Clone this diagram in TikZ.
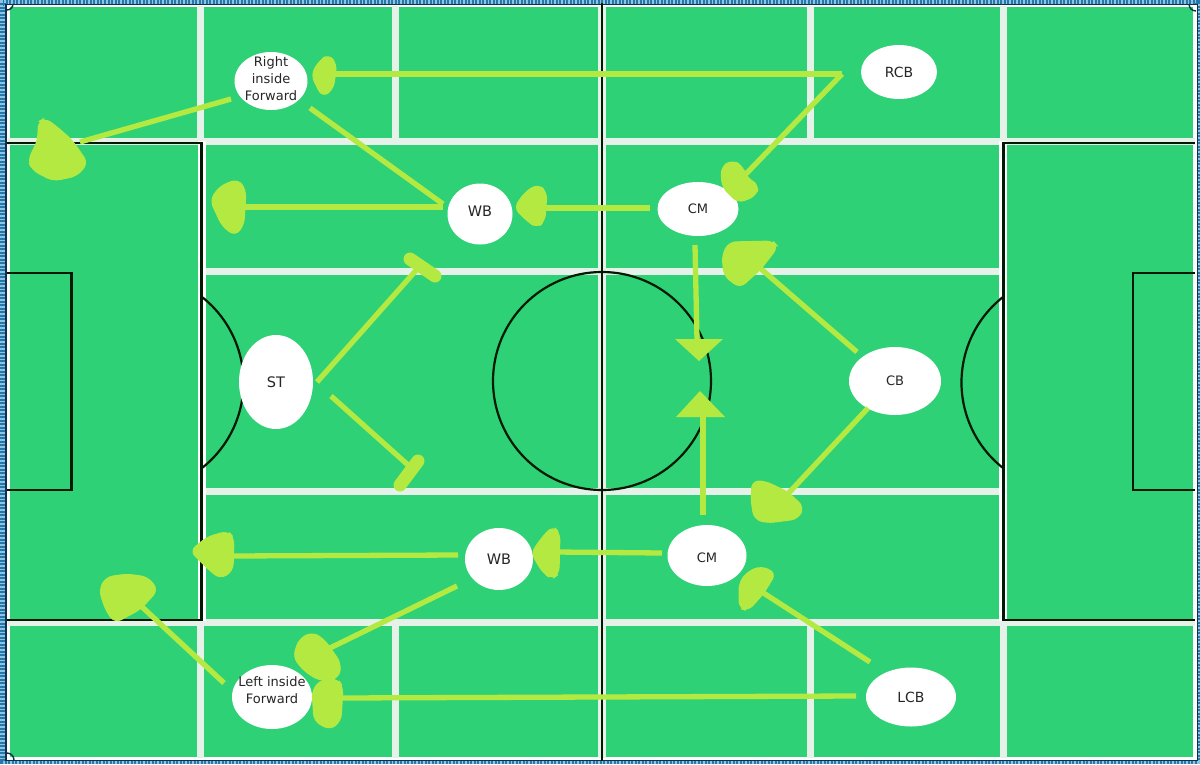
\documentclass[tikz,border=0pt]{standalone}
\usepackage{fontspec}
\setmainfont{DejaVu Sans}
\usetikzlibrary{shapes.geometric}
\definecolor{pitch}{HTML}{2ED176}
\definecolor{lime}{HTML}{B4E942}
\definecolor{chalk}{HTML}{E6F2E9}
\definecolor{edgeblue}{HTML}{2478AC}
\definecolor{edgelight}{HTML}{8FC4E0}
\definecolor{edgedark}{HTML}{10304A}
\tikzset{
  player/.style={ellipse,fill=white,draw=none,inner sep=0pt},
  plabel/.style={font=\fontsize{13}{17}\selectfont,align=center,text=black!85,inner sep=0pt},
  biglabel/.style={plabel,font=\fontsize{14.5}{17}\selectfont},
  midlabel/.style={plabel,font=\fontsize{14}{17}\selectfont},
  chalkline/.style={draw=chalk,line width=7pt},
  thinchalk/.style={draw=white,line width=8pt},
  blackline/.style={draw=black!90!green,line width=2.6pt},
  arcline/.style={draw=black!90!green,line width=2.2pt},
  conn/.style={draw=lime,line width=5.3pt},
  blob/.style={fill=lime,draw=lime,line width=1pt,line join=round,rounded corners=7pt},
  bar/.style={draw=lime,line width=13pt,line cap=round},
  tip/.style={fill=lime,draw=none}
}
\begin{document}
\begin{tikzpicture}[x=1pt,y=-1pt]
\useasboundingbox (0,0) rectangle (1200,764);
% frame
\fill[edgelight] (0,0) rectangle (1200,764);
\draw[draw=edgeblue,line width=6pt,dash pattern=on 2pt off 1.5pt] (3,3) rectangle (1197,761);
\fill[edgedark] (5,4) rectangle (1198,761);
\fill[white] (7,5) rectangle (1197,760);
\fill[pitch] (10,7) rectangle (1193,757);
% chalk grid
\foreach \yy in {141,622} \draw[chalkline] (8,\yy) -- (1195,\yy);
\foreach \yy in {271,491} \draw[chalkline] (201,\yy) -- (1003,\yy);
\foreach \xx in {200,395,810,1003} {
  \draw[chalkline] (\xx,6) -- (\xx,141);
  \draw[chalkline] (\xx,622) -- (\xx,758);
}
\draw[chalkline,line width=8pt] (602,6) -- (602,758);
\draw[thinchalk] (201.5,141) -- (201.5,621);
\draw[thinchalk] (1003,141) -- (1003,621);
% pitch markings
\draw[blackline] (7,143) -- (201.5,143) -- (201.5,620) -- (7,620);
\draw[blackline] (1195,143) -- (1003.5,143) -- (1003.5,620) -- (1195,620);
\draw[blackline] (7,273) -- (71.5,273) -- (71.5,490) -- (7,490);
\draw[blackline] (1195,273) -- (1133,273) -- (1133,490) -- (1195,490);
\draw[blackline] (602,3) -- (602,761);
\draw[arcline] (602,381) circle[radius=109pt];
\draw[arcline] (202,297) arc[start angle=51.8,end angle=-51.8,radius=108.8pt];
\draw[arcline] (1003,297) arc[start angle=128.2,end angle=231.8,radius=108.8pt];
% corner arcs
\draw[edgedark,line width=1.4pt] (7,10) arc[start angle=-90,end angle=0,radius=6pt];
\draw[edgedark,line width=1.4pt] (7,753) arc[start angle=90,end angle=0,radius=7pt];
\draw[edgedark,line width=1.4pt] (1189,4) arc[start angle=180,end angle=270,radius=7pt];
% players
\node[player,minimum width=73pt,minimum height=58pt,label={[plabel,yshift=2pt]center:Right\\inside\\Forward}] (rif) at (271,81) {};
\node[player,minimum width=80pt,minimum height=64pt,label={[plabel,yshift=7pt]center:Left inside\\Forward}] (lif) at (272,697) {};
\node[player,minimum width=76pt,minimum height=54pt,label={[midlabel]center:RCB}] (rcb) at (899,72) {};
\node[player,minimum width=65pt,minimum height=61pt,label={[biglabel,yshift=3pt]center:WB}] (wbt) at (480,214) {};
\node[player,minimum width=81pt,minimum height=54pt,label={[plabel]center:CM}] (cmt) at (698,209) {};
\node[player,minimum width=74pt,minimum height=94pt,label={[biglabel]center:ST}] (st) at (276,382) {};
\node[player,minimum width=92pt,minimum height=68pt,label={[plabel]center:CB}] (cb) at (895,381) {};
\node[player,minimum width=68pt,minimum height=62pt,label={[biglabel]center:WB}] (wbb) at (499,559) {};
\node[player,minimum width=79pt,minimum height=61pt,label={[plabel,yshift=-2.5pt]center:CM}] (cmb) at (707,555.5) {};
\node[player,minimum width=90pt,minimum height=59pt,label={[midlabel]center:LCB}] (lcb) at (911,697) {};
% connector ends
\coordinate (rifa) at (231,99);   \coordinate (rifh) at (80,142);
\coordinate (rcba) at (842,74);   \coordinate (rcbh) at (332,74);
\coordinate (rcbk) at (745,175);
\coordinate (wbta) at (443,207);  \coordinate (wbth) at (243,207);
\coordinate (wbtb) at (443,204);  \coordinate (wbtk) at (310,108);
\coordinate (cmta) at (650,208);  \coordinate (cmth) at (543,208);
\coordinate (cmtb) at (695,245);  \coordinate (cmtk) at (697,340);
\coordinate (sta) at (317,382);   \coordinate (sth) at (419,267);
\coordinate (stb) at (331,396);   \coordinate (stk) at (408,465);
\coordinate (cba) at (857,352);   \coordinate (cbh) at (760,268);
\coordinate (cbb) at (868,408);   \coordinate (cbk) at (785,497);
\coordinate (cmba) at (662,553);  \coordinate (cmbh) at (556,552);
\coordinate (cmbb) at (703,515);  \coordinate (cmbk) at (703,417);
\coordinate (wbba) at (458,555);  \coordinate (wbbh) at (230,556);
\coordinate (wbbb) at (457,586);  \coordinate (wbbk) at (330,648);
\coordinate (lifa) at (224,683);  \coordinate (lifh) at (140,605);
\coordinate (lcba) at (856,696);  \coordinate (lcbh) at (340,698);
\coordinate (lcbb) at (870,662);  \coordinate (lcbk) at (762,592);
% connectors
\foreach \aa/\bb in {rifa/rifh,rcba/rcbh,rcba/rcbk,wbta/wbth,wbtb/wbtk,cmta/cmth,cmtb/cmtk,sta/sth,stb/stk,cba/cbh,cbb/cbk,cmba/cmbh,cmbb/cmbk,wbba/wbbh,wbbb/wbbk,lifa/lifh,lcba/lcbh,lcbb/lcbk}
  \draw[conn] (\aa) -- (\bb);
% hand-painted heads
\draw[blob] (45,118) -- (56,126) -- (72,140) -- (88,163) -- (77,176) -- (53,181) -- (32,170) -- (28,160) -- (38,140) -- (38,122) -- cycle;
\draw[blob] (329,54) -- (337,65) -- (333,90) -- (322,97) -- (311,75) -- (319,61) -- cycle;
\draw[blob] (238,179) -- (246,190) -- (244,225) -- (235,236) -- (222,226) -- (210,200) -- (220,186) -- cycle;
\draw[blob] (538,184) -- (547,192) -- (545,221) -- (537,228) -- (527,221) -- (514,208) -- (525,192) -- cycle;
\draw[blob] (732,160) -- (743,166) -- (746,177) -- (759,185) -- (756,196) -- (738,203) -- (722,187) -- (721,167) -- cycle;
\draw[blob] (729,242) -- (773,241) -- (778,247) -- (761,269) -- (740,288) -- (724,276) -- (722,255) -- cycle;
\draw[blob] (752,481) -- (765,481) -- (788,492) -- (804,507) -- (798,519) -- (767,523) -- (754,519) -- (751,500) -- cycle;
\draw[blob] (553,526) -- (560,533) -- (559,574) -- (552,579) -- (543,573) -- (531,553) -- (543,536) -- cycle;
\draw[blob] (228,531) -- (234,538) -- (233,571) -- (220,579) -- (207,568) -- (190,551) -- (207,537) -- cycle;
\draw[blob] (127,574) -- (148,577) -- (158,590) -- (141,609) -- (115,623) -- (106,611) -- (99,590) -- (106,577) -- cycle;
\draw[blob] (338,679) -- (343,687) -- (341,721) -- (330,730) -- (314,721) -- (312,690) -- (322,679) -- cycle;
\draw[blob] (312,632) -- (324,639) -- (341,663) -- (339,678) -- (320,681) -- (304,671) -- (293,657) -- (299,639) -- cycle;
\draw[blob] (761,566) -- (776,573) -- (764,593) -- (748,611) -- (739,608) -- (739,583) -- (747,572) -- cycle;
\draw[bar] (410,259) -- (435,276);
\draw[bar] (400,485) -- (418,461);
\fill[tip] (675,339) -- (723,339) -- (699,361) -- cycle;
\fill[tip] (676,417) -- (725,417) -- (700,391) -- cycle;
\end{tikzpicture}
\end{document}
